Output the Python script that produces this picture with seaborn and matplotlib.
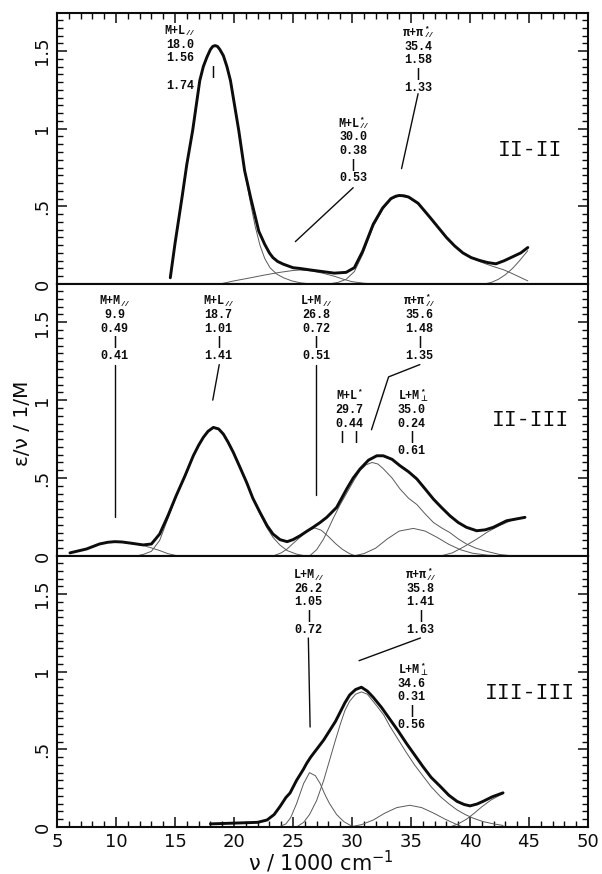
import numpy as np
import pandas as pd
import matplotlib
matplotlib.use("Agg")
import matplotlib.pyplot as plt
import seaborn as sns
from matplotlib.ticker import MultipleLocator, FixedLocator

# ---------------- data ----------------
# Panel II-II
t_tot_x = [14.6, 15.0, 15.6, 16.0, 16.5, 17.1, 17.4, 17.7, 18.0, 18.2, 18.4, 18.6, 18.8, 19.1, 19.4, 19.7,
           20.4, 20.9, 21.4, 22.1, 22.6, 23.0, 23.3, 23.7, 24.2, 25.0, 25.6, 26.5, 27.5, 28.5, 29.5, 30.2,
           30.9, 31.8, 32.6, 33.3, 33.7, 34.0, 34.4, 34.8, 35.6, 36.6, 37.3, 38.0, 38.7, 39.4, 40.1, 40.8,
           41.5, 42.2, 42.9, 43.6, 44.3, 44.9]
t_tot_y = [0.04, 0.26, 0.56, 0.77, 0.99, 1.31, 1.40, 1.46, 1.51, 1.53, 1.535, 1.53, 1.51, 1.47, 1.40, 1.31,
           0.99, 0.73, 0.56, 0.34, 0.256, 0.20, 0.17, 0.145, 0.127, 0.105, 0.10, 0.09, 0.08, 0.07, 0.075, 0.105,
           0.21, 0.385, 0.49, 0.55, 0.565, 0.57, 0.568, 0.56, 0.52, 0.43, 0.365, 0.30, 0.245, 0.20, 0.17, 0.152,
           0.138, 0.13, 0.15, 0.175, 0.20, 0.235]
t_c1_x = [14.6, 15.0, 15.6, 16.0, 16.5, 17.1, 17.4, 17.7, 18.0, 18.2, 18.4, 18.6, 18.8, 19.1, 19.4, 19.7,
          20.4, 20.9, 21.4, 21.8, 22.2, 22.6, 23.05, 23.6, 24.2, 24.9, 25.6, 26.5]
t_c1_y = [0.04, 0.26, 0.56, 0.77, 0.99, 1.31, 1.40, 1.46, 1.51, 1.53, 1.535, 1.53, 1.51, 1.47, 1.40, 1.31,
          0.99, 0.73, 0.52, 0.37, 0.25, 0.165, 0.105, 0.065, 0.04, 0.02, 0.008, 0.0]
t_c2_x = [18.8, 20.0, 21.4, 22.6, 23.8, 25.0, 25.6, 26.5, 27.5, 28.5, 29.3, 30.0, 31.0, 32.0]
t_c2_y = [0.0, 0.02, 0.04, 0.058, 0.074, 0.087, 0.09, 0.085, 0.07, 0.05, 0.03, 0.015, 0.005, 0.0]
t_c3_x = [28.0, 28.8, 29.5, 30.2, 30.9, 31.8, 32.6, 33.3, 34.0, 34.8, 35.6, 36.6, 37.3, 38.0, 38.7, 39.4,
          40.1, 40.8, 41.5, 42.2, 42.8, 43.5, 44.2, 44.9]
t_c3_y = [0.0, 0.01, 0.03, 0.08, 0.19, 0.37, 0.48, 0.545, 0.568, 0.555, 0.515, 0.425, 0.36, 0.295, 0.245, 0.20,
          0.168, 0.145, 0.125, 0.107, 0.093, 0.07, 0.045, 0.02]
t_c4_x = [41.2, 41.8, 42.4, 43.0, 43.6, 44.2, 44.9]
t_c4_y = [0.0, 0.01, 0.03, 0.06, 0.10, 0.15, 0.215]

# Panel II-III
m_tot_x = [6.1, 7.5, 8.6, 9.3, 9.9, 10.5, 11.2, 12.3, 13.0, 13.7, 14.4, 15.1, 15.85, 16.55, 17.0, 17.4, 17.8,
           18.25, 18.7, 19.1, 19.5, 19.94, 20.5, 21.07, 21.6, 22.2, 22.8, 23.3, 23.9, 24.5, 25.0, 25.6, 26.2,
           26.7, 27.3, 27.86, 28.7, 29.55, 30.1, 30.68, 31.4, 32.1, 32.65, 33.4, 34.07, 34.8, 35.5, 36.2,
           36.9, 37.6, 38.3, 39.0, 39.7, 40.57, 41.3, 41.97, 43.1, 44.66]
m_tot_y = [0.02, 0.045, 0.077, 0.088, 0.092, 0.09, 0.083, 0.071, 0.077, 0.141, 0.258, 0.387, 0.515, 0.643, 0.71,
           0.761, 0.80, 0.825, 0.815, 0.782, 0.73, 0.665, 0.57, 0.472, 0.37, 0.28, 0.195, 0.141, 0.105, 0.092,
           0.105, 0.13, 0.16, 0.184, 0.215, 0.248, 0.312, 0.43, 0.50, 0.558, 0.615, 0.643, 0.643, 0.62, 0.579,
           0.54, 0.494, 0.43, 0.365, 0.31, 0.258, 0.215, 0.184, 0.162, 0.168, 0.184, 0.226, 0.248]
m_c1_x = [6.1, 7.5, 8.6, 9.3, 9.9, 10.5, 11.2, 12.3, 13.0, 13.7, 14.4, 15.1]
m_c1_y = [0.02, 0.045, 0.077, 0.088, 0.092, 0.09, 0.083, 0.068, 0.052, 0.035, 0.015, 0.003]
m_c2_x = [11.7, 12.3, 13.0, 13.7, 14.4, 15.1, 15.85, 16.55, 17.0, 17.4, 17.8, 18.25, 18.7, 19.1, 19.5, 19.94,
          20.5, 21.07, 21.6, 22.2, 22.8, 23.3, 23.9, 24.5, 25.3, 26.1]
m_c2_y = [0.0, 0.01, 0.03, 0.1, 0.24, 0.38, 0.515, 0.64, 0.71, 0.76, 0.80, 0.825, 0.815, 0.782, 0.73, 0.665,
          0.57, 0.47, 0.365, 0.27, 0.18, 0.12, 0.07, 0.035, 0.012, 0.0]
m_c3_x = [23.3, 24.0, 24.5, 25.0, 25.6, 26.2, 26.85, 27.4, 28.0, 28.6, 29.2, 29.8, 30.3]
m_c3_y = [0.0, 0.02, 0.045, 0.08, 0.12, 0.16, 0.18, 0.165, 0.125, 0.08, 0.042, 0.015, 0.0]
m_c4_x = [26.4, 27.0, 27.6, 28.4, 29.0, 29.6, 30.2, 30.7, 31.2, 31.7, 32.2, 32.65, 33.4, 34.07, 34.8, 35.5,
          36.2, 36.9, 37.6, 38.3, 39.0, 39.7, 40.5, 41.4, 42.5, 43.7]
m_c4_y = [0.0, 0.04, 0.11, 0.24, 0.33, 0.41, 0.49, 0.55, 0.585, 0.60, 0.59, 0.56, 0.50, 0.43, 0.37, 0.33,
          0.27, 0.215, 0.18, 0.15, 0.11, 0.077, 0.05, 0.03, 0.01, 0.0]
m_c5_x = [30.1, 31.0, 32.0, 33.0, 34.0, 35.2, 36.2, 37.2, 38.2, 39.2, 40.2, 41.5, 43.1]
m_c5_y = [0.0, 0.015, 0.05, 0.11, 0.16, 0.177, 0.16, 0.12, 0.075, 0.04, 0.018, 0.005, 0.0]
m_c6_x = [37.5, 38.5, 39.5, 40.6, 41.5, 42.5, 43.5, 44.66]
m_c6_y = [0.0, 0.02, 0.06, 0.11, 0.155, 0.195, 0.228, 0.248]

# Panel III-III
b_tot_x = [18.0, 20.0, 22.0, 22.8, 23.4, 23.9, 24.4, 24.75, 25.3, 25.87, 26.16, 26.5, 27.0, 27.6, 28.1, 28.6,
           29.0, 29.4, 29.8, 30.3, 30.8, 31.3, 31.8, 32.5, 33.2, 33.9, 34.6, 35.3, 36.0, 36.7, 37.5, 38.2,
           38.9, 39.5, 40.0, 40.6, 41.1, 41.9, 42.8]
b_tot_y = [0.02, 0.025, 0.03, 0.045, 0.08, 0.132, 0.19, 0.219, 0.30, 0.37, 0.41, 0.45, 0.5, 0.56, 0.62, 0.68,
           0.74, 0.80, 0.85, 0.885, 0.90, 0.875, 0.835, 0.77, 0.695, 0.62, 0.54, 0.465, 0.39, 0.32, 0.26, 0.205,
           0.165, 0.145, 0.136, 0.148, 0.165, 0.195, 0.22]
b_c1_x = [23.8, 24.4, 24.8, 25.3, 25.9, 26.4, 26.9, 27.3, 27.7, 28.1, 28.7, 29.3, 30.1]
b_c1_y = [0.0, 0.02, 0.06, 0.15, 0.28, 0.35, 0.33, 0.28, 0.21, 0.15, 0.08, 0.035, 0.0]
b_c2_x = [25.3, 25.9, 26.4, 27.0, 27.6, 28.1, 28.6, 29.0, 29.4, 29.8, 30.3, 30.8, 31.3, 32.1, 32.7, 33.2,
          33.9, 34.6, 35.3, 36.0, 36.7, 37.5, 38.2, 38.9, 39.6, 40.3, 41.1, 42.0, 42.8]
b_c2_y = [0.0, 0.03, 0.08, 0.17, 0.30, 0.43, 0.56, 0.66, 0.75, 0.81, 0.855, 0.87, 0.855, 0.78, 0.72, 0.65,
          0.565, 0.48, 0.40, 0.33, 0.26, 0.195, 0.15, 0.11, 0.08, 0.056, 0.035, 0.02, 0.01]
b_c3_x = [29.8, 30.8, 31.8, 32.8, 33.8, 34.9, 35.9, 36.9, 37.9, 38.9, 39.4]
b_c3_y = [0.0, 0.015, 0.045, 0.09, 0.125, 0.14, 0.125, 0.09, 0.05, 0.015, 0.0]
b_c4_x = [38.3, 39.0, 39.7, 40.3, 41.0, 41.8, 42.8]
b_c4_y = [0.0, 0.02, 0.05, 0.085, 0.13, 0.175, 0.215]

panel_names = ["II-II", "II-III", "III-III"]
y_tick_vals = [0, 0.5, 1, 1.5]
y_tick_labels = ["0", ".5", "1", "1.5"]
x_tick_vals = [5, 10, 15, 20, 25, 30, 35, 40, 45, 50]
x_tick_labels = ["5", "10", "15", "20", "25", "30", "35", "40", "45", "50"]

# band annotations: head = (base, superscript, subscript), then the value lines
top_heads = [("M+L", "", "//"), ("π+π", "*", "//"), ("M+L", "*", "//")]
top_vals = [["18.0", "1.56", "", "1.74"], ["35.4", "1.58", "|", "1.33"], ["30.0", "0.38", "|", "0.53"]]
mid_heads = [("M+M", "", "//"), ("M+L", "", "//"), ("L+M", "", "//"), ("π+π", "*", "//"),
             ("M+L", "*", ""), ("L+M", "*", "⊥")]
mid_vals = [["9.9", "0.49", "|", "0.41"], ["18.7", "1.01", "|", "1.41"], ["26.8", "0.72", "|", "0.51"],
            ["35.6", "1.48", "|", "1.35"], ["29.7", "0.44", "| |"], ["35.0", "0.24", "|", "0.61"]]
bot_heads = [("L+M", "", "//"), ("π+π", "*", "//"), ("L+M", "*", "⊥")]
bot_vals = [["26.2", "1.05", "|", "0.72"], ["35.8", "1.41", "|", "1.63"], ["34.6", "0.31", "|", "0.56"]]

# ---------------- layout (positions / styles) ----------------
top_note_pos = [(15.4, 1.63), (35.6, 1.617), (30.1, 1.032)]
mid_note_pos = [(9.9, 1.634), (18.7, 1.634), (26.95, 1.634), (35.7, 1.634), (29.75, 1.025), (35.05, 1.025)]
bot_note_pos = [(26.3, 1.623), (35.8, 1.623), (35.05, 1.011)]
top_leaders = [[(35.6, 1.225), (34.2, 0.743)], [(30.1, 0.62), (25.2, 0.273)]]
mid_leaders = [[(9.9, 1.228), (9.9, 0.253)], [(18.75, 1.228), (18.2, 1.0)], [(26.95, 1.228), (26.95, 0.39)],
               [(35.75, 1.228), (33.1, 1.149), (31.65, 0.81)]]
bot_leaders = [[(26.3, 1.217), (26.45, 0.644)], [(35.8, 1.217), (30.6, 1.071)]]

sns.set_theme(style="white")
plt.rcParams['font.family'] = ['DejaVu Sans']
plt.rcParams['mathtext.fontset'] = 'dejavusans'

INK = "#0c0c0c"
fig = plt.figure(figsize=(6.02, 8.74), dpi=100)
W, H = 602.0, 874.0
left, right = 57, 588
bounds = [(13, 284), (284, 556), (556, 827)]
axes = []
for (ytop, ybot) in bounds:
    ax = fig.add_axes([left / W, 1 - ybot / H, (right - left) / W, (ybot - ytop) / H])
    axes.append(ax)

thick = dict(color=INK, linewidth=2.1)
thin = dict(color="#5a5a5a", linewidth=0.7)

panels = [
    ([(t_c1_x, t_c1_y), (t_c2_x, t_c2_y), (t_c3_x, t_c3_y), (t_c4_x, t_c4_y)], (t_tot_x, t_tot_y)),
    ([(m_c1_x, m_c1_y), (m_c2_x, m_c2_y), (m_c3_x, m_c3_y), (m_c4_x, m_c4_y), (m_c5_x, m_c5_y),
      (m_c6_x, m_c6_y)], (m_tot_x, m_tot_y)),
    ([(b_c1_x, b_c1_y), (b_c2_x, b_c2_y), (b_c3_x, b_c3_y), (b_c4_x, b_c4_y)], (b_tot_x, b_tot_y)),
]

for ax, (comps, tot) in zip(axes, panels):
    for cx, cy in comps:
        df = pd.DataFrame({"nu": cx, "eps": cy})
        sns.lineplot(data=df, x="nu", y="eps", ax=ax, estimator=None, sort=False, legend=False, **thin)
    df = pd.DataFrame({"nu": tot[0], "eps": tot[1]})
    sns.lineplot(data=df, x="nu", y="eps", ax=ax, estimator=None, sort=False, legend=False,
                 solid_capstyle="round", solid_joinstyle="round", **thick)
    ax.set_xlabel("")
    ax.set_ylabel("")
    ax.set_xlim(5, 50)
    ax.set_ylim(0, 1.745)
    for s in ax.spines.values():
        s.set_linewidth(1.5)
        s.set_color(INK)
    ax.yaxis.set_major_locator(FixedLocator(y_tick_vals))
    ax.yaxis.set_minor_locator(MultipleLocator(0.05))
    ax.set_yticklabels(y_tick_labels, rotation=90, va="center")
    ax.tick_params(axis="y", which="both", direction="in", left=True, right=True, colors=INK,
                   labelsize=13, pad=4)
    ax.tick_params(axis="y", which="major", length=7, width=1.1)
    ax.tick_params(axis="y", which="minor", length=4.5, width=1.0)
    ax.xaxis.set_major_locator(FixedLocator(x_tick_vals))
    ax.xaxis.set_minor_locator(MultipleLocator(1))
    ax.tick_params(axis="x", which="both", direction="in", bottom=False, top=False,
                   labelbottom=False, labeltop=False, colors=INK)
    ax.grid(False)

axes[0].tick_params(axis="x", which="both", top=True)
axes[0].tick_params(axis="x", which="major", length=7, width=1.1)
axes[0].tick_params(axis="x", which="minor", length=4.5, width=1.0)
axes[2].tick_params(axis="x", which="both", bottom=True, labelbottom=True, labelsize=13, pad=4)
axes[2].tick_params(axis="x", which="major", length=7.5, width=1.1)
axes[2].tick_params(axis="x", which="minor", length=4, width=1.0)
axes[2].set_xticklabels(x_tick_labels)

FAM = ["Liberation Mono", "DejaVu Sans"]
FS = 8.5
FS_S = 5.5
note_font = dict(family=FAM, fontweight="bold", fontsize=FS, color=INK)
script_font = dict(family=FAM, fontweight="bold", fontsize=FS_S, color=INK)
step = 9.85


def block(ax, pos, head, vals):
    x, y = pos
    base, sup, sub = head
    bw = len(base) * 0.6 * FS
    ew = max(len(sup), len(sub)) * 0.6 * FS_S
    ax.annotate(base, xy=(x, y), xytext=(-ew / 2, 0), textcoords="offset points",
                ha="center", va="center", **note_font)
    xr = bw / 2 - ew / 2 + 0.2
    if sup:
        ax.annotate(sup, xy=(x, y), xytext=(xr, 3.2), textcoords="offset points",
                    ha="left", va="center", **script_font)
    if sub:
        ax.annotate(sub, xy=(x, y), xytext=(xr, -2.2), textcoords="offset points",
                    ha="left", va="center", **script_font)
    for k, s in enumerate(vals, start=1):
        if s == "":
            continue
        ax.annotate(s, xy=(x, y), xytext=(0, -k * step), textcoords="offset points",
                    ha="center", va="center", **note_font)


for ax, heads, vals, poss, leaders in zip(axes, [top_heads, mid_heads, bot_heads],
                                          [top_vals, mid_vals, bot_vals],
                                          [top_note_pos, mid_note_pos, bot_note_pos],
                                          [top_leaders, mid_leaders, bot_leaders]):
    for h, v, p in zip(heads, vals, poss):
        block(ax, p, h, v)
    for seg in leaders:
        xs = [q[0] for q in seg]
        ys = [q[1] for q in seg]
        ax.plot(xs, ys, color=INK, linewidth=1.0)

# separate peak marker of the first band in II-II
axes[0].annotate("|", xy=(18.2, 1.63), xytext=(0, -3 * step), textcoords="offset points",
                 ha="center", va="center", **note_font)

for ax, name, yy in zip(axes, panel_names, [0.86, 0.867, 0.861]):
    ax.text(45.1, yy, name, family="Liberation Mono", fontsize=15.5, ha="center", va="center",
            color=INK)

fig.text(22 / W, 1 - 423 / H, "ε/ν / 1/M", rotation=90, ha="center", va="center", fontsize=14.5,
         color=INK)
fig.text(321 / W, 1 - 862 / H, "ν / 1000 cm$^{-1}$", ha="center", va="center", fontsize=15,
         color=INK)

fig.savefig("out.png", dpi=100, facecolor="white")
